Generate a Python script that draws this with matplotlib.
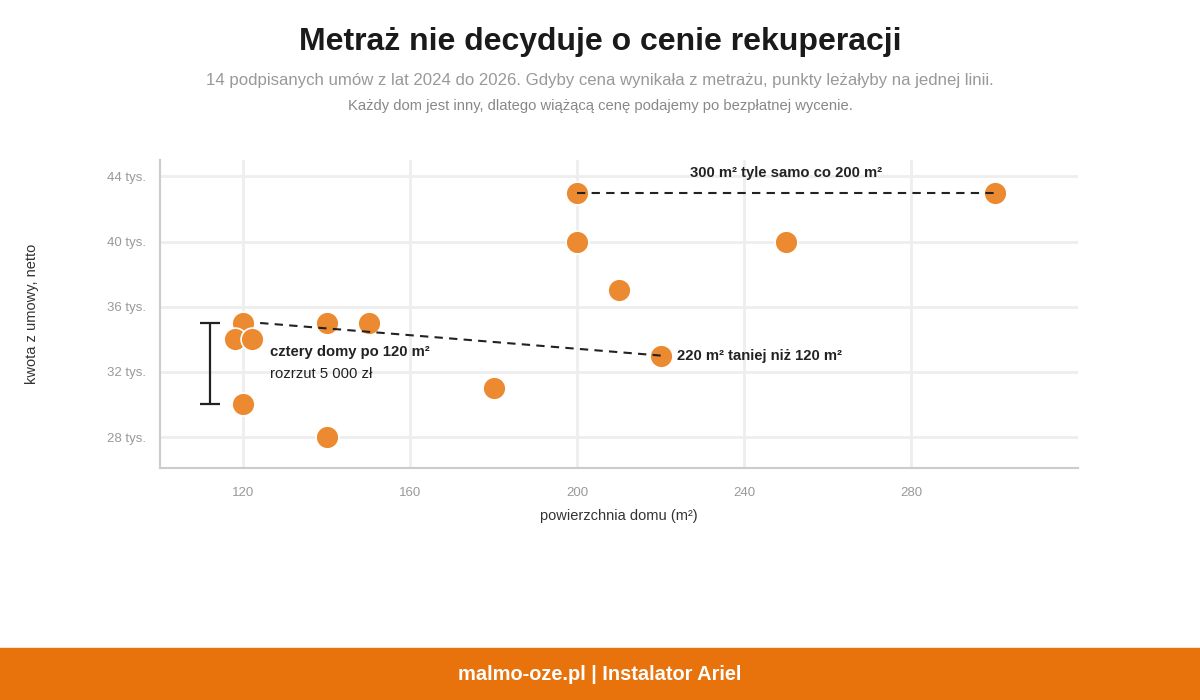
import matplotlib
matplotlib.use("Agg")
import matplotlib.pyplot as plt

plt.rcParams["font.family"] = ["Liberation Sans", "DejaVu Sans"]

# contracts: house area (m2) and price (thousand PLN, net)
area = [200, 300, 200, 250, 210, 120, 140, 150, 118, 122, 220, 180, 120, 140]
price = [43, 43, 40, 40, 37, 35, 35, 35, 34, 34, 33, 31, 30, 28]

yticks = [28, 32, 36, 40, 44]
ytick_labels = ["28 tys.", "32 tys.", "36 tys.", "40 tys.", "44 tys."]
xticks = [120, 160, 200, 240, 280]

ORANGE = "#EC8A31"
FOOTER = "#E8720C"

fig = plt.figure(figsize=(12, 7), dpi=100)
ax = fig.add_axes([0.1333, 0.3314, 0.7650, 0.44])

ax.scatter(area, price, s=270, color=ORANGE, edgecolor="white", linewidth=1.2, zorder=3)

# annotations
ax.plot([200, 300], [43, 43], ls=(0, (4, 3)), color="#222", lw=1.5, zorder=4)
ax.text(250, 44.2, "300 m² tyle samo co 200 m²", ha="center", va="center",
        fontsize=10.7, fontweight="bold", color="#222")

ax.plot([124, 220], [35, 33], ls=(0, (4, 3)), color="#222", lw=1.5, zorder=4)
ax.text(224, 33.0, "220 m² taniej niż 120 m²", ha="left", va="center",
        fontsize=10.7, fontweight="bold", color="#222")

ax.errorbar([112], [32.5], yerr=[[2.5], [2.5]], color="#222", lw=1.6,
            capsize=7, capthick=1.6, zorder=4)
ax.text(126.3, 33.2, "cztery domy po 120 m²", ha="left", va="center",
        fontsize=10.7, fontweight="bold", color="#222")
ax.text(126.3, 31.9, "rozrzut 5 000 zł", ha="left", va="center",
        fontsize=10.7, color="#222")

ax.set_xlim(100, 320)
ax.set_ylim(26.1, 45)
ax.set_xticks(xticks)
ax.set_yticks(yticks)
ax.set_yticklabels(ytick_labels)
ax.tick_params(length=0, colors="#999", labelsize=9.5)
ax.tick_params(axis="x", pad=14)
ax.tick_params(axis="y", pad=10)
ax.grid(color="#EEEEEE", lw=2, zorder=0)
ax.set_axisbelow(True)
for s in ["top", "right"]:
    ax.spines[s].set_visible(False)
for s in ["left", "bottom"]:
    ax.spines[s].set_color("#CCCCCC")
    ax.spines[s].set_linewidth(1.5)

ax.set_xlabel("powierzchnia domu (m²)", fontsize=10.5, color="#333", labelpad=7)
ax.set_ylabel("kwota z umowy, netto", fontsize=10.5, color="#333", labelpad=49)

fig.text(0.5, 1 - 42 / 700, "Metraż nie decyduje o cenie rekuperacji", ha="center",
         va="center", fontsize=23, fontweight="bold", color="#1a1a1a")
fig.text(0.5, 1 - 80 / 700,
         "14 podpisanych umów z lat 2024 do 2026. Gdyby cena wynikała z metrażu, punkty leżałyby na jednej linii.",
         ha="center", va="center", fontsize=12.1, color="#999")
fig.text(0.5, 1 - 106 / 700,
         "Każdy dom jest inny, dlatego wiążącą cenę podajemy po bezpłatnej wycenie.",
         ha="center", va="center", fontsize=10.6, color="#888")

fig.patches.append(plt.Rectangle((0, 0), 1, 52 / 700, transform=fig.transFigure,
                                 color=FOOTER, zorder=0))
fig.text(0.5, 25 / 700, "malmo-oze.pl | Instalator Ariel", ha="center", va="center",
         fontsize=14.4, fontweight="bold", color="white")

fig.savefig("out.png", dpi=100, facecolor="white")
